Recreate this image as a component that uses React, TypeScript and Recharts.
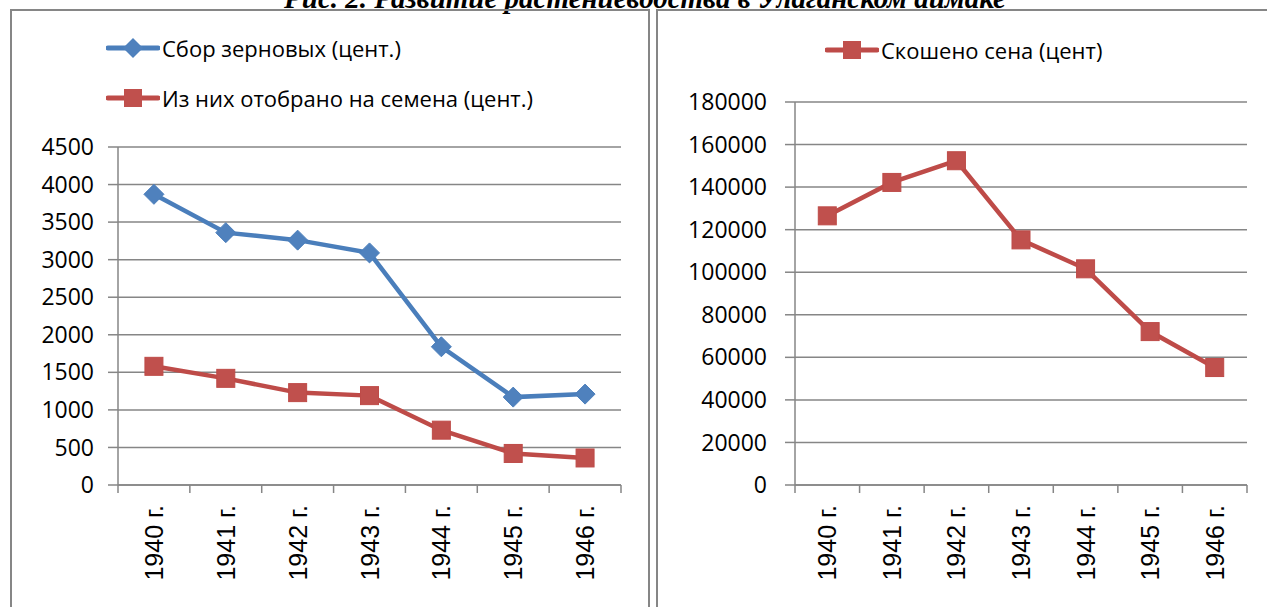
import { CartesianGrid, Line, LineChart, XAxis, YAxis } from "recharts";

const YEARS = ["1940 г.", "1941 г.", "1942 г.", "1943 г.", "1944 г.", "1945 г.", "1946 г."];
const GRAIN = [3870, 3360, 3260, 3090, 1840, 1170, 1210];
const SEEDS = [1580, 1420, 1230, 1190, 730, 420, 360];
const HAY = [126500, 142200, 152400, 115200, 101600, 72100, 55200];

const GRAIN_TICKS = [0, 500, 1000, 1500, 2000, 2500, 3000, 3500, 4000, 4500];
const HAY_TICKS = [0, 20000, 40000, 60000, 80000, 100000, 120000, 140000, 160000, 180000];

const GRAIN_LABEL = "Сбор зерновых (цент.)";
const SEEDS_LABEL = "Из них отобрано на семена (цент.)";
const HAY_LABEL = "Скошено сена (цент)";
const CAPTION = "Рис. 2. Развитие растениеводства в Улаганском аймаке";

const BLUE_LINE = "#4a7ebb";
const BLUE_FILL = "#4f81bd";
const RED_LINE = "#be4b48";
const RED_FILL = "#c0504d";
const GRID = "#868686";
const AXIS_Y = 485;
const TICK_FONT = "'Open Sans', 'Liberation Sans', sans-serif";

const leftRows = YEARS.map((year, i) => ({ year, grain: GRAIN[i], seeds: SEEDS[i] }));
const rightRows = YEARS.map((year, i) => ({ year, hay: HAY[i] }));

function Diamond({ cx, cy }: { cx?: number; cy?: number }) {
  if (cx == null || cy == null) return null;
  const r = 10;
  return (
    <polygon
      points={`${cx},${cy - r} ${cx + r},${cy} ${cx},${cy + r} ${cx - r},${cy}`}
      fill={BLUE_FILL}
      stroke={BLUE_LINE}
      strokeWidth={1}
    />
  );
}

function Square({ cx, cy }: { cx?: number; cy?: number }) {
  if (cx == null || cy == null) return null;
  const s = 9;
  return <rect x={cx - s} y={cy - s} width={s * 2} height={s * 2} fill={RED_FILL} stroke={RED_LINE} strokeWidth={1} />;
}

// Excel-style category axis: ticks sit on the band edges, labels are rotated
function YearTick(props: any) {
  const { x, y, payload, index, band, count } = props;
  const edge = x - band / 2;
  return (
    <g>
      <line x1={edge} y1={AXIS_Y} x2={edge} y2={AXIS_Y + 8} stroke={GRID} strokeWidth={1.5} />
      {index === count - 1 && (
        <line x1={x + band / 2} y1={AXIS_Y} x2={x + band / 2} y2={AXIS_Y + 8} stroke={GRID} strokeWidth={1.5} />
      )}
      <text
        x={x}
        y={y}
        transform={`rotate(-90, ${x}, ${y})`}
        textAnchor="end"
        dy="0.36em"
        fontSize={25}
        fontFamily="'Liberation Sans', Arial, sans-serif"
        fill="#000"
      >
        {payload.value}
      </text>
    </g>
  );
}

function LegendIcon({ kind, color, fill }: { kind: "diamond" | "square"; color: string; fill: string }) {
  return (
    <svg width={54} height={24} style={{ display: "block" }}>
      <line x1={2} y1={12} x2={52} y2={12} stroke={color} strokeWidth={5} strokeLinecap="round" />
      {kind === "diamond" ? (
        <polygon points="27,2 37,12 27,22 17,12" fill={fill} />
      ) : (
        <rect x={18} y={3} width={18} height={18} fill={fill} />
      )}
    </svg>
  );
}

function LegendItem({
  left,
  top,
  kind,
  color,
  fill,
  label,
}: {
  left: number;
  top: number;
  kind: "diamond" | "square";
  color: string;
  fill: string;
  label: string;
}) {
  return (
    <div
      style={{
        position: "absolute",
        left,
        top: top - 16,
        height: 32,
        display: "flex",
        alignItems: "center",
        gap: 2,
        fontFamily: TICK_FONT,
        fontSize: 22,
        color: "#000",
        whiteSpace: "nowrap",
      }}
    >
      <LegendIcon kind={kind} color={color} fill={fill} />
      <span>{label}</span>
    </div>
  );
}

const yTick = { fill: "#000", fontSize: 23, fontFamily: TICK_FONT };

export default function App() {
  const leftBand = (621 - 118) / YEARS.length;
  const rightBand = (1247 - 795) / YEARS.length;

  return (
    <div
      style={{
        position: "absolute",
        left: 0,
        top: 0,
        width: 1267,
        height: 607,
        overflow: "hidden",
        background: "#fff",
      }}
    >
      <div
        style={{
          position: "absolute",
          left: 0,
          top: -18,
          width: 1290,
          textAlign: "center",
          fontFamily: "'Liberation Serif', 'Times New Roman', serif",
          fontWeight: "bold",
          fontStyle: "italic",
          fontSize: 29,
          lineHeight: "32px",
          whiteSpace: "nowrap",
        }}
      >
        {CAPTION}
      </div>

      <div style={{ position: "absolute", left: 10, top: 9, width: 636, height: 640, border: `2px solid ${GRID}` }} />
      <div style={{ position: "absolute", left: 656, top: 9, width: 700, height: 640, border: `2px solid ${GRID}` }} />

      <div style={{ position: "absolute", left: 0, top: 0 }}>
        <LineChart width={645} height={607} data={leftRows} margin={{ top: 147, right: 24, bottom: 0, left: 0 }}>
          <CartesianGrid vertical={false} stroke={GRID} strokeWidth={1.5} />
          <XAxis
            dataKey="year"
            interval={0}
            height={122}
            padding={{ left: leftBand / 2, right: leftBand / 2 }}
            tickSize={8}
            tickMargin={12}
            tickLine={false}
            axisLine={{ stroke: GRID, strokeWidth: 1.5 }}
            tick={(p: any) => <YearTick {...p} band={leftBand} count={YEARS.length} />}
          />
          <YAxis
            width={118}
            domain={[0, 4500]}
            ticks={GRAIN_TICKS}
            tickSize={10}
            tickMargin={14}
            tick={yTick}
            axisLine={{ stroke: GRID, strokeWidth: 1.5 }}
            tickLine={{ stroke: GRID, strokeWidth: 1.5 }}
          />
          <Line
            dataKey="grain"
            stroke={BLUE_LINE}
            strokeWidth={4.5}
            dot={(p: any) => <Diamond key={`g${p.index}`} cx={p.cx} cy={p.cy} />}
            activeDot={false}
            isAnimationActive={false}
          />
          <Line
            dataKey="seeds"
            stroke={RED_LINE}
            strokeWidth={4.5}
            dot={(p: any) => <Square key={`s${p.index}`} cx={p.cx} cy={p.cy} />}
            activeDot={false}
            isAnimationActive={false}
          />
        </LineChart>
      </div>

      <div style={{ position: "absolute", left: 650, top: 0 }}>
        <LineChart width={617} height={607} data={rightRows} margin={{ top: 102, right: 20, bottom: 0, left: 0 }}>
          <CartesianGrid vertical={false} stroke={GRID} strokeWidth={1.5} />
          <XAxis
            dataKey="year"
            interval={0}
            height={122}
            padding={{ left: rightBand / 2, right: rightBand / 2 }}
            tickSize={8}
            tickMargin={12}
            tickLine={false}
            axisLine={{ stroke: GRID, strokeWidth: 1.5 }}
            tick={(p: any) => <YearTick {...p} band={rightBand} count={YEARS.length} />}
          />
          <YAxis
            width={145}
            domain={[0, 180000]}
            ticks={HAY_TICKS}
            tickSize={10}
            tickMargin={18}
            tick={yTick}
            axisLine={{ stroke: GRID, strokeWidth: 1.5 }}
            tickLine={{ stroke: GRID, strokeWidth: 1.5 }}
          />
          <Line
            dataKey="hay"
            stroke={RED_LINE}
            strokeWidth={4.5}
            dot={(p: any) => <Square key={`h${p.index}`} cx={p.cx} cy={p.cy} />}
            activeDot={false}
            isAnimationActive={false}
          />
        </LineChart>
      </div>

      <LegendItem left={106} top={48} kind="diamond" color={BLUE_LINE} fill={BLUE_FILL} label={GRAIN_LABEL} />
      <LegendItem left={106} top={98} kind="square" color={RED_LINE} fill={RED_FILL} label={SEEDS_LABEL} />
      <LegendItem left={825} top={50} kind="square" color={RED_LINE} fill={RED_FILL} label={HAY_LABEL} />
    </div>
  );
}
